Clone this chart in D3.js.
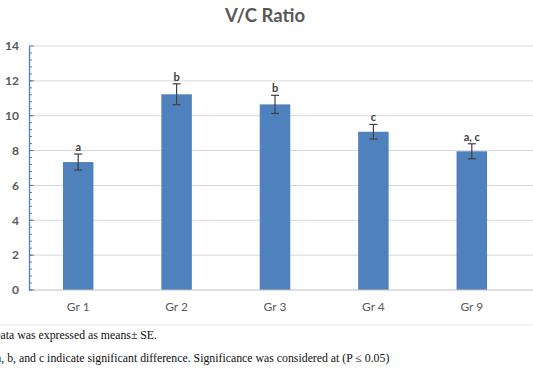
<!DOCTYPE html>
<html><head><meta charset="utf-8">
<script src="https://cdn.jsdelivr.net/npm/d3@7"></script>
<style>body{margin:0;background:#fff;overflow:hidden}svg{display:block}</style>
</head><body>
<svg id="c" width="533" height="372"></svg>
<script>
const categories = ["Gr 1","Gr 2","Gr 3","Gr 4","Gr 9"];
const means = [7.34, 11.23, 10.65, 9.08, 7.96];
const errors = [0.46, 0.6, 0.52, 0.42, 0.43];
const letters = ["a","b","b","c","a, c"];
const yTicks = [0,2,4,6,8,10,12,14];
const title = "V/C Ratio";
const notes = ["Data was expressed as means\u00b1 SE.",
  "a, b, and c indicate significant difference. Significance was considered at (P \u2264 0.05)"];

const svg = d3.select("#c");
const sans = "Lato, 'Open Sans', sans-serif";
const x = d3.scaleBand().domain(categories).range([29, 521]).paddingInner(0.69).paddingOuter(0.345);
const y = d3.scaleLinear().domain([0,14]).range([290, 46]);

// gridlines
svg.append("g").selectAll("line").data(yTicks.filter(d=>d>0)).join("line")
  .attr("x1",29).attr("x2",533).attr("y1",d=>y(d)).attr("y2",d=>y(d))
  .attr("stroke","#d9d9d9").attr("stroke-width",1);

// title
svg.append("text").attr("x",265).attr("y",22).attr("text-anchor","middle")
  .attr("font-family",sans).attr("font-weight","bold").attr("font-size",18.5).attr("fill","#595959").text(title);

// bars
svg.append("g").selectAll("rect").data(means).join("rect")
  .attr("x",(d,i)=>x(categories[i])).attr("width",x.bandwidth())
  .attr("y",d=>y(d)).attr("height",d=>y(0)-y(d)).attr("fill","#4F81BD");

// error bars
const eg = svg.append("g").attr("stroke","#404040").attr("stroke-width",1.2);
means.forEach((m,i)=>{
  const cx = x(categories[i]) + x.bandwidth()/2;
  eg.append("line").attr("x1",cx).attr("x2",cx).attr("y1",y(m+errors[i])).attr("y2",y(m-errors[i]));
  eg.append("line").attr("x1",cx-4).attr("x2",cx+4).attr("y1",y(m+errors[i])).attr("y2",y(m+errors[i]));
  eg.append("line").attr("x1",cx-4).attr("x2",cx+4).attr("y1",y(m-errors[i])).attr("y2",y(m-errors[i]));
});
// letters
svg.append("g").selectAll("text").data(letters).join("text")
  .attr("x",(d,i)=>x(categories[i]) + x.bandwidth()/2)
  .attr("y",(d,i)=>y(means[i]+errors[i]) - 3)
  .attr("text-anchor","middle").attr("font-family",sans).attr("font-weight","bold")
  .attr("font-size",11).attr("fill","#404040").text(d=>d);

// x axis line
svg.append("line").attr("x1",29).attr("x2",533).attr("y1",y(0)).attr("y2",y(0))
  .attr("stroke","#bfbfbf").attr("stroke-width",1);

// x labels
const xa = svg.append("g").attr("transform",`translate(0,${y(0)})`)
  .call(d3.axisBottom(x).tickSize(0).tickPadding(12));
xa.select(".domain").remove();
xa.selectAll("text").attr("font-family",sans).attr("font-size",12).attr("fill","#595959");

// y axis
const ya = svg.append("g").attr("transform","translate(29,0)")
  .call(d3.axisLeft(y).tickValues(yTicks).tickSize(0).tickPadding(10));
ya.select(".domain").attr("stroke","#4F81BD").attr("stroke-width",1.3);
ya.selectAll("text").attr("font-family",sans).attr("font-size",12).attr("font-weight","bold").attr("fill","#595959");
// minor ticks
const minor = d3.range(0, 35).map(i=>i*0.4);
svg.append("g").selectAll("line").data(minor).join("line")
  .attr("x1",29).attr("x2",32).attr("y1",d=>y(d)).attr("y2",d=>y(d))
  .attr("stroke","#4F81BD").attr("stroke-width",1);
svg.append("g").selectAll("line").data(yTicks).join("line")
  .attr("x1",29).attr("x2",34).attr("y1",d=>y(d)).attr("y2",d=>y(d))
  .attr("stroke","#4F81BD").attr("stroke-width",1);

// separator
svg.append("line").attr("x1",0).attr("x2",533).attr("y1",325).attr("y2",325)
  .attr("stroke","#e3e3e3").attr("stroke-width",1);

// notes
svg.append("g").selectAll("text").data(notes).join("text")
  .attr("x",(d,i)=> i===0 ? -8 : -4).attr("y",(d,i)=> i===0 ? 339 : 362)
  .attr("font-family","'Liberation Serif', 'Times New Roman', serif")
  .attr("font-size",11.8).attr("fill","#111").text(d=>d);
</script>
</body></html>
